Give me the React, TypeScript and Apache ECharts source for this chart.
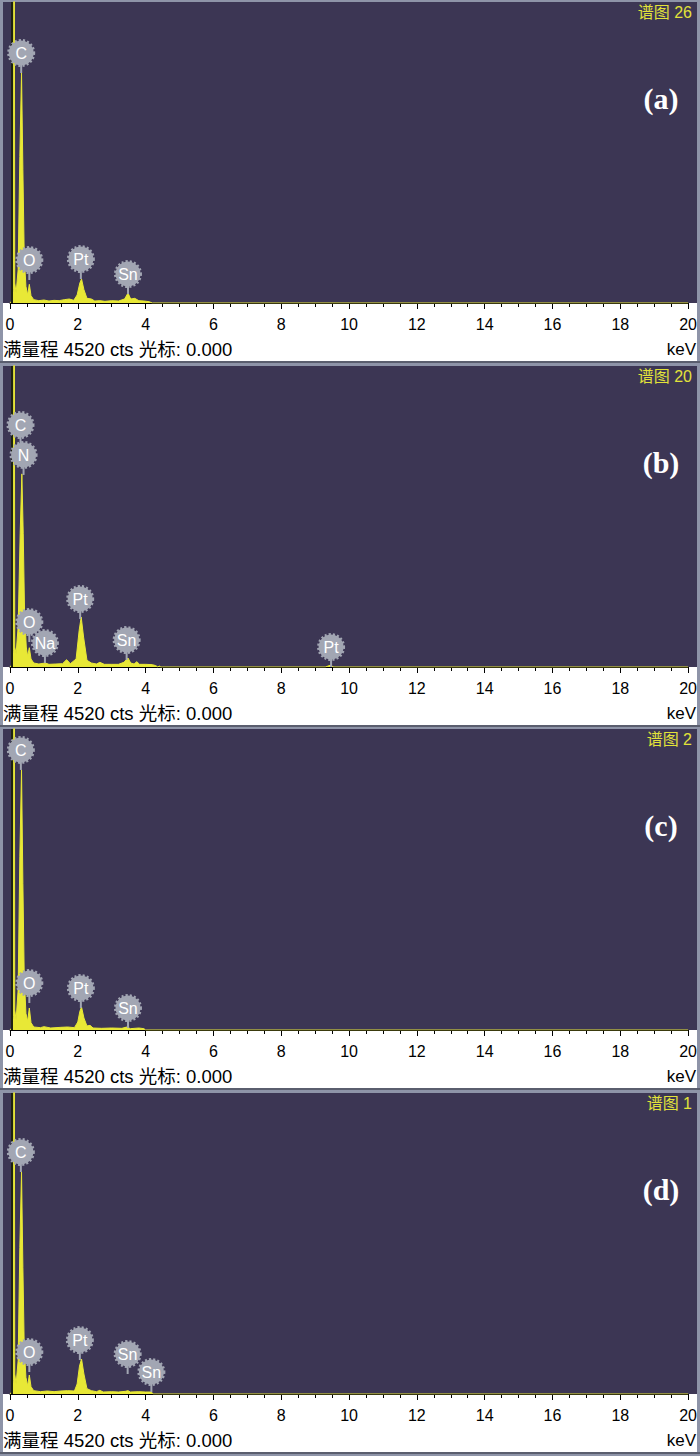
import React, { useEffect, useRef } from "react";
import * as echarts from "echarts";

// ---- data ----
const FULL_SCALE = 4520; // cts
const X_MIN = 0;
const X_MAX = 20; // keV
const X_INTERVAL = 2;
const CURSOR_KEV = 0.06;

const TITLES = ["谱图 26", "谱图 20", "谱图 2", "谱图 1"];
const TAGS = ["(a)", "(b)", "(c)", "(d)"];
const FOOTER = "满量程 4520 cts 光标: 0.000";
const UNIT = "keV";

// spectra: [keV, counts]
const specA: [number, number][] = [
  [0, 0], [0.05, 30], [0.1, 200], [0.12, 9000], [0.14, 300], [0.18, 150],
  [0.24, 500], [0.29, 2200], [0.34, 3454], [0.38, 2000], [0.42, 700],
  [0.47, 250], [0.52, 120], [0.57, 280], [0.62, 110], [0.7, 50], [0.85, 35],
  [1.0, 45], [1.15, 30], [1.3, 40], [1.45, 35], [1.6, 50], [1.75, 60],
  [1.88, 40], [1.98, 120], [2.06, 300], [2.11, 360], [2.18, 200], [2.27, 70],
  [2.4, 60], [2.5, 30], [2.65, 35], [2.8, 25], [3.0, 35], [3.2, 30],
  [3.38, 60], [3.48, 150], [3.56, 60], [3.68, 70], [3.8, 35], [3.95, 30],
  [4.1, 20], [4.2, 0], [20, 0],
];
const specB: [number, number][] = [
  [0, 0], [0.05, 30], [0.1, 250], [0.12, 9000], [0.14, 300], [0.18, 200],
  [0.24, 600], [0.3, 2000], [0.35, 2900], [0.39, 2000], [0.43, 800],
  [0.48, 300], [0.52, 160], [0.57, 290], [0.62, 120], [0.7, 60], [0.85, 45],
  [1.04, 60], [1.15, 40], [1.35, 45], [1.55, 50], [1.67, 110], [1.78, 50],
  [1.95, 120], [2.04, 550], [2.1, 750], [2.17, 450], [2.27, 100], [2.4, 60],
  [2.55, 45], [2.65, 70], [2.78, 40], [3.0, 40], [3.2, 40], [3.36, 70],
  [3.48, 135], [3.56, 60], [3.66, 45], [3.74, 80], [3.82, 40], [4.0, 40],
  [4.2, 35], [4.3, 20], [4.36, 0], [4.4, 15], [4.45, 0], [9.3, 0],
  [9.44, 25], [9.55, 0], [20, 0],
];
const specC: [number, number][] = [
  [0, 0], [0.05, 30], [0.1, 200], [0.12, 9000], [0.14, 300], [0.18, 150],
  [0.24, 600], [0.29, 2600], [0.34, 3905], [0.38, 2200], [0.42, 800],
  [0.47, 250], [0.52, 130], [0.57, 330], [0.62, 110], [0.7, 45], [0.9, 35],
  [1.0, 50], [1.2, 30], [1.5, 40], [1.7, 45], [1.9, 35], [2.0, 120],
  [2.06, 280], [2.11, 345], [2.18, 180], [2.27, 60], [2.36, 70], [2.45, 30],
  [2.7, 25], [3.0, 30], [3.3, 25], [3.45, 45], [3.55, 20], [3.8, 30],
  [3.95, 20], [4.0, 0], [20, 0],
];
const specD: [number, number][] = [
  [0, 0], [0.05, 30], [0.1, 200], [0.12, 9000], [0.14, 300], [0.18, 150],
  [0.24, 500], [0.29, 2200], [0.34, 3334], [0.38, 1900], [0.42, 700],
  [0.47, 250], [0.52, 120], [0.57, 285], [0.62, 110], [0.7, 50], [0.9, 35],
  [1.1, 45], [1.3, 35], [1.5, 45], [1.7, 50], [1.9, 45], [1.98, 150],
  [2.05, 420], [2.11, 525], [2.18, 300], [2.27, 80], [2.4, 50], [2.55, 35],
  [2.65, 55], [2.75, 30], [3.0, 35], [3.2, 30], [3.4, 40], [3.48, 50],
  [3.55, 30], [3.8, 35], [4.0, 30], [4.17, 30], [4.22, 0], [20, 0],
];

// element markers: [element, keV, counts at stem foot]
type Mark = [string, number, number];
const labelsA: Mark[] = [["C", 0.33, 3454], ["O", 0.57, 345], ["Pt", 2.09, 360], ["Sn", 3.48, 135]];
const labelsB: Mark[] = [
  ["C", 0.31, 3334], ["N", 0.4, 2884], ["O", 0.57, 375], ["Na", 1.03, 60],
  ["Pt", 2.07, 721], ["Sn", 3.44, 105], ["Pt", 9.47, 0],
];
const labelsC: Mark[] = [["C", 0.32, 3905], ["O", 0.57, 405], ["Pt", 2.09, 330], ["Sn", 3.48, 30]];
const labelsD: Mark[] = [
  ["C", 0.32, 3334], ["O", 0.57, 330], ["Pt", 2.06, 510], ["Sn", 3.47, 300], ["Sn", 4.17, 30],
];

const SPECTRA = [specA, specB, specC, specD];
const LABELS = [labelsA, labelsB, labelsC, labelsD];

// ---- layout / style ----
const PANEL_TOPS = [0, 364, 727, 1091];
const PLOT_H = 301;
const GRID_LEFT = 10;
const GRID_W = 679;
const BG = "#3c3654";
const YELLOW = "#e8e836";
const MARK_GRAY = "#a2a6b3";
const LATIN = '"Liberation Sans", Arial, "Noto Sans CJK SC", sans-serif';
const CJK = '"Liberation Sans", "Noto Sans CJK SC", sans-serif';

export default function App() {
  const ref = useRef<HTMLDivElement>(null);
  useEffect(() => {
    document.body.style.margin = "0";
    const chart = echarts.init(ref.current!, null, { renderer: "svg" });

    const grids: any[] = [];
    const xAxes: any[] = [];
    const yAxes: any[] = [];
    const series: any[] = [];
    const graphics: any[] = [];

    PANEL_TOPS.forEach((t, i) => {
      grids.push({ left: GRID_LEFT, width: GRID_W, top: t + 2, height: PLOT_H, show: false });
      xAxes.push({
        type: "value", gridIndex: i, min: X_MIN, max: X_MAX, interval: X_INTERVAL,
        axisLine: { show: true, lineStyle: { color: "#000", width: 1 } },
        axisTick: { show: true, length: 6, lineStyle: { color: "#000", width: 1 } },
        minorTick: { show: true, splitNumber: 4, length: 4, lineStyle: { color: "#000", width: 1 } },
        splitLine: { show: false },
        minorSplitLine: { show: false },
        axisLabel: { color: "#000", fontSize: 16, margin: 13, fontFamily: LATIN, showMinLabel: true, showMaxLabel: true },
      });
      yAxes.push({ type: "value", gridIndex: i, min: 0, max: FULL_SCALE, show: false });

      series.push({
        type: "line", xAxisIndex: i, yAxisIndex: i, data: SPECTRA[i],
        symbol: "none", showSymbol: false, clip: true, z: 3,
        lineStyle: { color: YELLOW, width: 1 },
        areaStyle: { color: YELLOW, opacity: 1 },
        markLine: {
          silent: true, symbol: ["none", "none"], label: { show: false },
          lineStyle: { color: "#1d2212", width: 2, type: "solid" },
          data: [{ xAxis: CURSOR_KEV }],
        },
      });

      const labs = LABELS[i];
      series.push({
        type: "custom", xAxisIndex: i, yAxisIndex: i, clip: false, z: 5,
        data: labs.map((l) => [l[1], l[2]]),
        renderItem: (params: any, api: any) => {
          const p = api.coord([api.value(0), api.value(1)]);
          const cy = p[1] - 20;
          const name = labs[params.dataIndex][0];
          return {
            type: "group",
            children: [
              { type: "line", shape: { x1: p[0], y1: p[1], x2: p[0], y2: cy + 10 }, style: { stroke: MARK_GRAY, lineWidth: 2 } },
              { type: "circle", shape: { cx: p[0], cy, r: 12.5 }, style: { fill: MARK_GRAY, stroke: MARK_GRAY, lineWidth: 3, lineDash: [2, 2] } },
              {
                type: "text",
                style: {
                  text: name, x: p[0], y: cy + 0.5, align: "center", verticalAlign: "middle",
                  textAlign: "center", textVerticalAlign: "middle",
                  fill: "#ffffff", fontSize: 16, fontFamily: LATIN,
                },
              },
            ],
          };
        },
      });

      // panel frame & areas
      graphics.push(
        { type: "rect", z: -10, shape: { x: 0, y: t, width: 700, height: 365 }, style: { fill: "#8e94a8" } },
        { type: "rect", z: -9, shape: { x: 3, y: t + 2, width: 694, height: PLOT_H }, style: { fill: BG } },
        { type: "rect", z: -9, shape: { x: 3, y: t + 2 + PLOT_H, width: 694, height: 58 }, style: { fill: "#ffffff" } },
        { type: "rect", z: -8, shape: { x: 0, y: t + 361, width: 700, height: 2 }, style: { fill: "#5a5e6e" } },
        {
          type: "text", z: 10, x: 692, y: t + 12,
          style: { text: TITLES[i], fill: "#e2e23a", fontSize: 16, fontFamily: CJK, align: "right", verticalAlign: "middle", textAlign: "right", textVerticalAlign: "middle" },
        },
        {
          type: "text", z: 10, x: 661, y: t + 98,
          style: { text: TAGS[i], fill: "#ffffff", fontSize: 30, fontWeight: "bold", fontFamily: '"Liberation Serif", "Times New Roman", serif', align: "center", verticalAlign: "middle", textAlign: "center", textVerticalAlign: "middle" },
        },
        {
          type: "text", z: 10, x: 3, y: t + 349,
          style: { text: FOOTER, fill: "#000000", fontSize: 18.5, fontFamily: CJK, align: "left", verticalAlign: "middle", textAlign: "left", textVerticalAlign: "middle" },
        },
        {
          type: "text", z: 10, x: 696, y: t + 349,
          style: { text: UNIT, fill: "#000000", fontSize: 17, fontFamily: LATIN, align: "right", verticalAlign: "middle", textAlign: "right", textVerticalAlign: "middle" },
        },
      );
    });

    chart.setOption({
      animation: false,
      backgroundColor: "#ffffff",
      grid: grids,
      xAxis: xAxes,
      yAxis: yAxes,
      series,
      graphic: { elements: graphics },
    });
    return () => chart.dispose();
  }, []);
  return <div ref={ref} style={{ width: 700, height: 1456 }} />;
}
